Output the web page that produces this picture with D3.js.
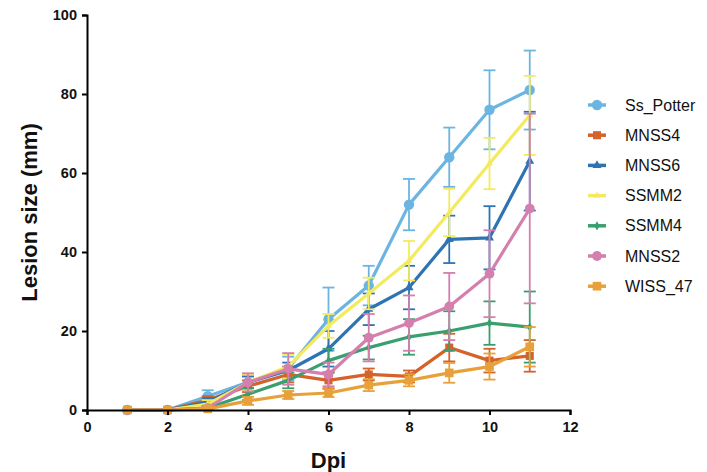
<!DOCTYPE html>
<html>
<head>
<meta charset="utf-8">
<script src="https://cdn.jsdelivr.net/npm/d3@7"></script>
<style>
  body { margin: 0; background: #fff; }
  svg { font-family: "Liberation Sans", Arial, sans-serif; }
</style>
</head>
<body>
<svg id="chart" width="707" height="472"></svg>
<script>
const dpi = [1, 2, 3, 4, 5, 6, 7, 8, 9, 10, 11];
const seriesNames = ["Ss_Potter", "MNSS4", "MNSS6", "SSMM2", "SSMM4", "MNSS2", "WISS_47"];
const ssPotter    = [0, 0, 3.5, 7, 10.5, 23, 31.5, 52, 64, 76, 81];
const ssPotterErr = [0, 0, 1.5, 1.5, 3, 8, 5, 6.5, 7.5, 10, 10];
const mnss4       = [0, 0, 2.5, 6, 9, 7.5, 9, 8.5, 15.8, 12.5, 13.7];
const mnss4Err    = [0, 0, 1, 1.5, 2, 2, 1.5, 1.5, 3.5, 3, 4];
const mnss6       = [0, 0, 2, 7, 10, 15.5, 25.5, 31, 43.2, 43.6, 63];
const mnss6Err    = [0, 0, 1, 1.5, 2, 4.5, 4, 5.5, 6, 8, 12.5];
const ssmm2       = [0, 0, 1.5, 7, 11, 21.3, 29.5, 37.8, 50, 62.4, 74.6];
const ssmm2Err    = [0, 0, 1, 2, 3, 3, 4, 5, 6, 6.5, 10];
const ssmm4       = [0, 0, 0.5, 4, 7.5, 12.5, 15.8, 18.5, 20, 22, 21];
const ssmm4Err    = [0, 0, 0.5, 1.5, 2, 3, 3, 4.5, 5, 5.5, 9];
const mnss2       = [0, 0, 0.5, 7, 10.4, 9, 18.3, 22, 26.2, 34.5, 51];
const mnss2Err    = [0, 0, 0.5, 2.3, 4, 3, 6, 7, 8.5, 11, 24];
const wiss47      = [0, 0, 0.3, 2.3, 3.8, 4.3, 6.3, 7.5, 9.4, 11, 16];
const wiss47Err   = [0, 0, 0.3, 1, 1, 1, 1.5, 1.5, 2.5, 3.3, 5];
const xTicks = [0, 2, 4, 6, 8, 10, 12];
const yTicks = [0, 20, 40, 60, 80, 100];

const colors = ["#6cb5e2", "#d4622a", "#2e74b4", "#f3ea5f", "#3a9f6f", "#d47fae", "#e8a13a"];
const symbols = [d3.symbolCircle, d3.symbolSquare, d3.symbolTriangle, d3.symbolTriangle, d3.symbolDiamond, d3.symbolCircle, d3.symbolSquare];
const symSizes = [85, 65, 35, 20, 25, 75, 75];

const values = [ssPotter, mnss4, mnss6, ssmm2, ssmm4, mnss2, wiss47];
const errors = [ssPotterErr, mnss4Err, mnss6Err, ssmm2Err, ssmm4Err, mnss2Err, wiss47Err];

const series = seriesNames.map((name, s) => ({
  name, color: colors[s], symbol: symbols[s], size: symSizes[s],
  pts: dpi.map((x, i) => ({ x, y: values[s][i], e: errors[s][i] }))
}));

const svg = d3.select("#chart");
const margin = { left: 87, right: 137, top: 15, bottom: 62 };
const width = 707 - margin.left - margin.right;
const height = 472 - margin.top - margin.bottom;
const g = svg.append("g").attr("transform", `translate(${margin.left},${margin.top})`);

const x = d3.scaleLinear().domain([0, 12]).range([0, width]);
const y = d3.scaleLinear().domain([0, 100]).range([height, 0]);

const line = d3.line().x(d => x(d.x)).y(d => y(d.y));

series.forEach(s => {
  const sg = g.append("g").attr("class", "series");
  const eb = sg.selectAll("g.err").data(s.pts.filter(d => d.e > 0)).join("g").attr("class", "err")
    .attr("stroke", s.color).attr("stroke-width", 1.8).attr("fill", "none");
  eb.append("line").attr("x1", d => x(d.x)).attr("x2", d => x(d.x))
    .attr("y1", d => y(d.y - d.e)).attr("y2", d => y(d.y + d.e));
  eb.append("line").attr("x1", d => x(d.x) - 6).attr("x2", d => x(d.x) + 6)
    .attr("y1", d => y(d.y + d.e)).attr("y2", d => y(d.y + d.e));
  eb.append("line").attr("x1", d => x(d.x) - 6).attr("x2", d => x(d.x) + 6)
    .attr("y1", d => y(d.y - d.e)).attr("y2", d => y(d.y - d.e));

  sg.append("path").datum(s.pts).attr("d", line)
    .attr("fill", "none").attr("stroke", s.color).attr("stroke-width", 3.2)
    .attr("stroke-linejoin", "round");

  sg.selectAll("path.mk").data(s.pts).join("path").attr("class", "mk")
    .attr("transform", d => `translate(${x(d.x)},${y(d.y)})`)
    .attr("d", d3.symbol().type(s.symbol).size(s.size))
    .attr("fill", s.color);
});

// axes
const xAxis = g.append("g").attr("transform", `translate(0,${height})`)
  .call(d3.axisBottom(x).tickValues(xTicks).tickSize(5).tickPadding(7));
const yAxis = g.append("g")
  .call(d3.axisLeft(y).tickValues(yTicks).tickSize(5).tickPadding(5));
[xAxis, yAxis].forEach(a => {
  a.select(".domain").attr("stroke", "#000").attr("stroke-width", 2);
  a.selectAll(".tick line").attr("stroke", "#000").attr("stroke-width", 2);
  a.selectAll(".tick text").attr("fill", "#111").attr("font-size", 14.5).attr("font-weight", "bold")
    .attr("font-family", "'Liberation Sans', Arial, sans-serif");
});

svg.append("text").attr("x", margin.left + x(6)).attr("y", 468)
  .attr("text-anchor", "middle").attr("font-size", 22).attr("font-weight", "bold").attr("fill", "#111").text("Dpi");
svg.append("text").attr("transform", `translate(37,${margin.top + height / 2}) rotate(-90)`)
  .attr("text-anchor", "middle").attr("font-size", 22).attr("font-weight", "bold").attr("fill", "#111").text("Lesion size (mm)");

// legend
const lg = svg.append("g").attr("transform", "translate(588,105)");
const item = lg.selectAll("g").data(series).join("g").attr("transform", (d, i) => `translate(0,${i * 30.2})`);
item.append("line").attr("x1", 0).attr("x2", 18).attr("stroke", d => d.color).attr("stroke-width", 3.5);
item.append("path").attr("transform", "translate(9,0)")
  .attr("d", d => d3.symbol().type(d.symbol).size(d.size)()).attr("fill", d => d.color);
item.append("text").attr("x", 37).attr("y", 5.5).attr("font-size", 16).attr("fill", "#111").text(d => d.name);
</script>
</body>
</html>
